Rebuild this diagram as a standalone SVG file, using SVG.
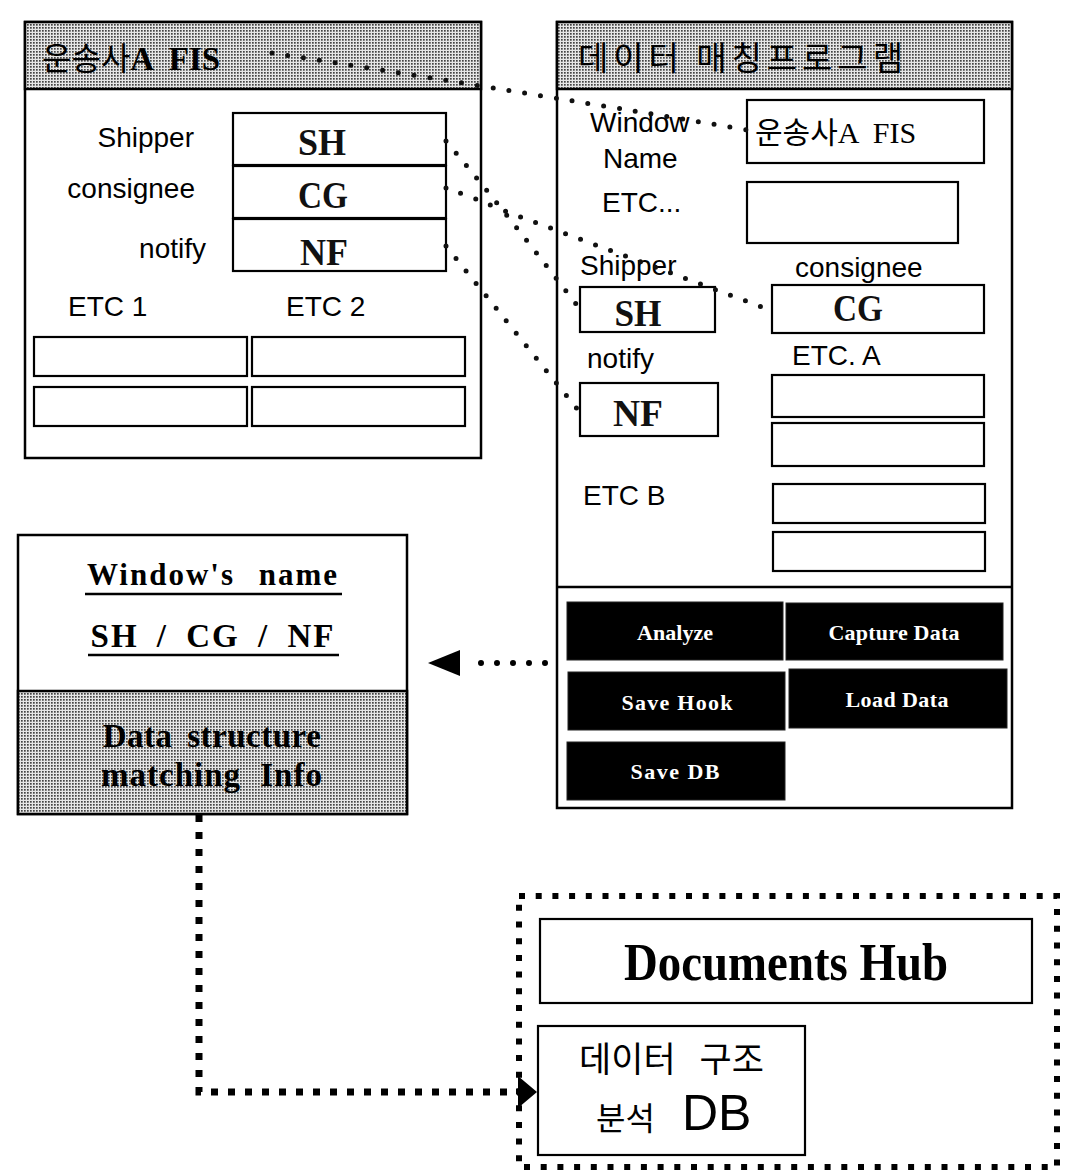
<svg xmlns="http://www.w3.org/2000/svg" width="1066" height="1172" viewBox="0 0 1066 1172">
  <defs>
    <!-- fine dot screen used for shaded title bands -->
    <pattern id="screen" width="3" height="3" patternUnits="userSpaceOnUse">
      <rect width="3" height="3" fill="#e6e6e6"/>
      <rect width="1.7" height="1.7" fill="#444"/>
    </pattern>
    <style>
      .frame { fill: #fff; stroke: #000; stroke-width: 2.5; }
      .band { fill: url(#screen); stroke: #000; stroke-width: 2.5; }
      .field { fill: #fff; stroke: #000; stroke-width: 2.2; }
      .btn { fill: #000; stroke: #222; stroke-width: 1; }
      .sans { font-family: "Liberation Sans", Arial, sans-serif; font-size: 28px; fill: #000; }
      .serif { font-family: "Liberation Serif", "Times New Roman", serif; font-weight: bold; fill: #000; }
      .code { font-family: "Liberation Serif", "Times New Roman", serif; font-weight: bold; font-size: 38px; fill: #111; }
      .ko { font-family: "Noto Sans CJK KR", sans-serif; }
      .btntxt { font-family: "Liberation Serif", "Times New Roman", serif; font-weight: bold; font-size: 22px; fill: #fff; }
      .fine-dots { fill: none; stroke: #111; stroke-width: 5; stroke-linecap: round; stroke-dasharray: 0 16; }
      .heavy-dash { fill: none; stroke: #000; stroke-width: 7; stroke-dasharray: 7 10; }
      .round-dots { fill: none; stroke: #000; stroke-width: 6; stroke-linecap: round; stroke-dasharray: 0 16; }
    </style>
  </defs>

  <rect width="1066" height="1172" fill="#fff"/>

  <!-- carrier A FIS window -->
  <g id="carrier-fis">
    <rect class="frame" x="25" y="22" width="456" height="436"/>
    <rect class="band" x="25" y="22" width="456" height="67"/>
    <text x="42" y="70"><tspan class="ko" font-size="32">운송사</tspan><tspan class="serif" font-size="33" xml:space="preserve">A  FIS</tspan></text>
    <text class="sans" x="194" y="147" text-anchor="end">Shipper</text>
    <text class="sans" x="195" y="198" text-anchor="end">consignee</text>
    <text class="sans" x="206" y="258" text-anchor="end">notify</text>
    <rect class="field" x="233" y="113" width="213" height="52"/>
    <rect class="field" x="233" y="166" width="213" height="52"/>
    <rect class="field" x="233" y="219" width="213" height="52"/>
    <text class="code" x="322" y="155" text-anchor="middle" textLength="48" lengthAdjust="spacingAndGlyphs">SH</text>
    <text class="code" x="323" y="208" text-anchor="middle" textLength="50" lengthAdjust="spacingAndGlyphs">CG</text>
    <text class="code" x="324" y="265" text-anchor="middle" textLength="48" lengthAdjust="spacingAndGlyphs">NF</text>
    <text class="sans" x="68" y="316">ETC 1</text>
    <text class="sans" x="286" y="316">ETC 2</text>
    <rect class="field" x="34" y="337" width="213" height="39"/>
    <rect class="field" x="252" y="337" width="213" height="39"/>
    <rect class="field" x="34" y="387" width="213" height="39"/>
    <rect class="field" x="252" y="387" width="213" height="39"/>
  </g>

  <!-- data matching program window -->
  <g id="matching-program">
    <rect class="frame" x="557" y="22" width="455" height="786"/>
    <rect class="band" x="557" y="22" width="455" height="67"/>
    <text class="ko" x="578" y="70" font-size="33" textLength="325">데이터 매칭프로그램</text>
    <line x1="557" y1="587" x2="1012" y2="587" stroke="#000" stroke-width="2.5"/>

    <text class="sans" x="590" y="132">Window</text>
    <text class="sans" x="603" y="168">Name</text>
    <rect class="field" x="747" y="100" width="237" height="63"/>
    <text x="755" y="143"><tspan class="ko" font-size="30">운송사</tspan><tspan font-family="'Liberation Serif', serif" font-size="30" xml:space="preserve">A  FIS</tspan></text>

    <text class="sans" x="602" y="212">ETC...</text>
    <rect class="field" x="747" y="182" width="211" height="61"/>

    <text class="sans" x="580" y="275">Shipper</text>
    <rect class="field" x="580" y="287" width="135" height="45"/>
    <text class="code" x="638" y="326" text-anchor="middle" textLength="47" lengthAdjust="spacingAndGlyphs">SH</text>

    <text class="sans" x="795" y="277">consignee</text>
    <rect class="field" x="772" y="285" width="212" height="48"/>
    <text class="code" x="858" y="321" text-anchor="middle" textLength="50" lengthAdjust="spacingAndGlyphs">CG</text>

    <text class="sans" x="587" y="368">notify</text>
    <rect class="field" x="580" y="383" width="138" height="53"/>
    <text class="code" x="638" y="426" text-anchor="middle" textLength="50" lengthAdjust="spacingAndGlyphs">NF</text>

    <text class="sans" x="792" y="365">ETC. A</text>
    <rect class="field" x="772" y="375" width="212" height="42"/>
    <rect class="field" x="772" y="423" width="212" height="43"/>

    <text class="sans" x="583" y="505">ETC B</text>
    <rect class="field" x="773" y="484" width="212" height="39"/>
    <rect class="field" x="773" y="532" width="212" height="39"/>

    <rect class="btn" x="567" y="602" width="216" height="58"/>
    <rect class="btn" x="786" y="603" width="217" height="57"/>
    <rect class="btn" x="568" y="672" width="217" height="58"/>
    <rect class="btn" x="789" y="669" width="218" height="59"/>
    <rect class="btn" x="567" y="742" width="218" height="58"/>
    <text class="btntxt" x="675" y="640" text-anchor="middle" textLength="76">Analyze</text>
    <text class="btntxt" x="894" y="640" text-anchor="middle" textLength="131">Capture Data</text>
    <text class="btntxt" x="677" y="710" text-anchor="middle" textLength="111">Save Hook</text>
    <text class="btntxt" x="897" y="707" text-anchor="middle" textLength="103">Load Data</text>
    <text class="btntxt" x="675" y="779" text-anchor="middle" textLength="89">Save DB</text>
  </g>

  <!-- captured window info -->
  <g id="window-info">
    <rect class="frame" x="18" y="535" width="389" height="279"/>
    <rect class="band" x="18" y="691" width="389" height="123"/>
    <text class="serif" x="213" y="585" font-size="31" text-anchor="middle" letter-spacing="2" word-spacing="14">Window's name</text>
    <line x1="85" y1="594" x2="342" y2="594" stroke="#000" stroke-width="2.5"/>
    <text class="serif" x="213" y="647" font-size="33" text-anchor="middle" letter-spacing="2" word-spacing="8">SH / CG / NF</text>
    <line x1="88" y1="655" x2="339" y2="655" stroke="#000" stroke-width="2.5"/>
    <text class="serif" x="212" y="747" font-size="33" text-anchor="middle" letter-spacing="0.5" word-spacing="6">Data structure</text>
    <text class="serif" x="212" y="786" font-size="33" text-anchor="middle" letter-spacing="1" word-spacing="10">matching Info</text>
  </g>

  <!-- documents hub -->
  <g id="documents-hub">
    <rect x="519" y="896" width="538" height="271" fill="none" stroke="#000" stroke-width="6" stroke-dasharray="6 10.7"/>
    <rect class="field" x="540" y="919" width="492" height="84"/>
    <text class="serif" x="786" y="980" font-size="52" text-anchor="middle" textLength="324" lengthAdjust="spacingAndGlyphs">Documents  Hub</text>
    <rect class="field" x="538" y="1026" width="267" height="129"/>
    <text class="ko" x="579" y="1072" font-size="35" word-spacing="16">데이터 구조</text>
    <text class="ko" x="596" y="1130" font-size="32">분석</text>
    <text x="682" y="1130" font-family="'Liberation Sans', Arial, sans-serif" font-size="50">DB</text>
  </g>

  <!-- connectors -->
  <g id="connectors">
    <path class="fine-dots" d="M272,53 Q480,85 748,130"/>
    <path class="fine-dots" d="M446,141 Q500,205 576,304"/>
    <path class="fine-dots" d="M446,188 Q470,196 502,210 L770,310"/>
    <path class="fine-dots" d="M446,246 L578,410"/>

    <line class="round-dots" x1="545" y1="663" x2="465" y2="663"/>
    <polygon points="428,663 460,650 460,676" fill="#000"/>

    <polyline class="heavy-dash" points="199,815 199,1092 520,1092"/>
    <polygon points="537,1092 518,1076 518,1108" fill="#000"/>
  </g>
</svg>
